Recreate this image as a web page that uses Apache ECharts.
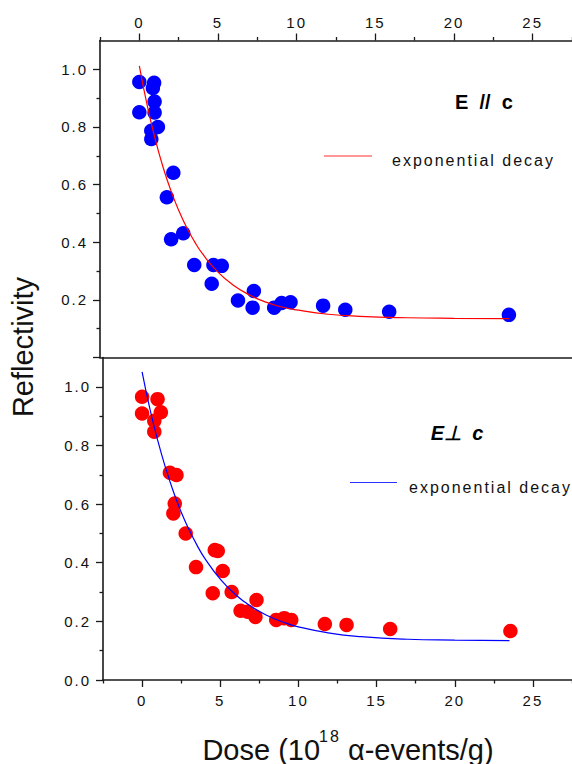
<!DOCTYPE html>
<html>
<head>
<meta charset="utf-8">
<script src="https://cdn.jsdelivr.net/npm/echarts@6/dist/echarts.min.js"></script>
<style>
  html, body { margin: 0; padding: 0; background: #fff; }
  #chart { width: 572px; height: 764px; }
</style>
</head>
<body>
<div id="chart"></div>
<script>
// E // c  (blue points, red fit)
const parDose = [0, 0, 0.94, 0.86, 0.97, 0.97, 1.18, 0.76, 0.76, 2.16, 1.75, 2.02, 2.79, 3.49, 4.71, 5.24, 4.6, 7.28, 6.27, 7.2, 8.57, 9.04, 9.61, 11.68, 13.09, 15.88, 23.49]
const parRefl = [0.956, 0.851, 0.953, 0.935, 0.888, 0.85, 0.80, 0.787, 0.758, 0.641, 0.556, 0.41, 0.431, 0.321, 0.321, 0.318, 0.256, 0.231, 0.198, 0.173, 0.173, 0.189, 0.192, 0.18, 0.166, 0.159, 0.148]

// E ⊥ c  (red points, blue fit)
const perpDose = [0, 0.99, 0, 1.2, 0.78, 0.78, 1.78, 2.2, 2.09, 2.0, 2.79, 3.45, 4.65, 4.84, 5.16, 4.52, 5.73, 6.3, 6.75, 7.32, 7.25, 8.58, 9.09, 9.54, 11.69, 13.08, 15.87, 23.56]
const perpRefl = [0.966, 0.958, 0.909, 0.913, 0.884, 0.847, 0.707, 0.699, 0.602, 0.568, 0.50, 0.385, 0.443, 0.44, 0.372, 0.296, 0.30, 0.236, 0.233, 0.273, 0.215, 0.205, 0.211, 0.205, 0.191, 0.188, 0.174, 0.167]

// fitted curves
const fitDose = [0, 0.5, 1, 1.5, 2, 2.5, 3, 3.5, 4, 5, 6, 7, 8, 9, 10, 12, 14, 17, 20, 23.5]
const parFit = [1.012, 0.875, 0.760, 0.662, 0.580, 0.511, 0.452, 0.403, 0.361, 0.296, 0.250, 0.217, 0.193, 0.176, 0.165, 0.150, 0.143, 0.138, 0.136, 0.135]
const perpFit = [1.051, 0.925, 0.817, 0.724, 0.643, 0.573, 0.513, 0.461, 0.416, 0.344, 0.290, 0.250, 0.220, 0.198, 0.181, 0.160, 0.148, 0.139, 0.136, 0.134]

// ticks
const xMajor = [0, 5, 10, 15, 20, 25]
const xMinor = [-2.5, 2.5, 7.5, 12.5, 17.5, 22.5, 27.5]
const yMajor = [0, 0.2, 0.4, 0.6, 0.8, 1.0]
const yMinor = [0.1, 0.3, 0.5, 0.7, 0.9]
const yLabelsTop = [0.2, 0.4, 0.6, 0.8, 1.0]
const yLabelsBottom = [0, 0.2, 0.4, 0.6, 0.8, 1.0]

const ink = '#1a1a1a'
const font = 'Liberation Sans'

const zip = (xs, ys) => xs.map((x, i) => [x, ys[i]])

const xAxisOf = (grid, position, opts) => ({
  type: 'value', gridIndex: grid, position,
  min: -2.5, max: 27.5,
  splitLine: { show: false },
  axisLine: { show: opts.line, onZero: false, lineStyle: { color: ink, width: 1.6 } },
  axisTick: opts.ticks
    ? { show: true, customValues: opts.ticks, length: opts.len, lineStyle: { color: ink, width: 1.3 } }
    : { show: false },
  axisLabel: opts.labels
    ? { show: true, customValues: opts.labels, margin: opts.margin, color: '#111', fontSize: 15, fontFamily: font }
    : { show: false }
})

const yAxisOf = (grid, opts) => ({
  type: 'value', gridIndex: grid, position: 'left',
  min: 0, max: 1.1,
  splitLine: { show: false },
  axisLine: { show: opts.line, onZero: false, lineStyle: { color: ink, width: 1.6 } },
  axisTick: { show: true, customValues: opts.ticks, length: opts.len, lineStyle: { color: ink, width: 1.3 } },
  axisLabel: opts.labels
    ? { show: true, customValues: opts.labels, margin: 12, color: '#111', fontSize: 15, fontFamily: font,
        formatter: v => Number(v).toFixed(1) }
    : { show: false }
})

const chart = echarts.init(document.getElementById('chart'), null, { renderer: 'svg' })

chart.setOption({
  animation: false,
  textStyle: { fontFamily: font },
  grid: [
    { left: 100, top: 40.5, width: 473, height: 317 },
    { left: 103, top: 357.5, width: 473, height: 322.5 }
  ],
  xAxis: [
    xAxisOf(0, 'top', { line: true, ticks: xMajor, len: 7, labels: xMajor, margin: 11 }),
    xAxisOf(0, 'top', { line: false, ticks: xMinor, len: 3.5 }),
    xAxisOf(0, 'bottom', { line: true }),
    xAxisOf(1, 'bottom', { line: true, ticks: xMajor, len: 7, labels: xMajor, margin: 13 }),
    xAxisOf(1, 'bottom', { line: false, ticks: xMinor, len: 3.5 })
  ],
  yAxis: [
    yAxisOf(0, { line: true, ticks: yMajor, len: 7, labels: yLabelsTop }),
    yAxisOf(0, { line: false, ticks: yMinor, len: 3.5 }),
    yAxisOf(1, { line: true, ticks: yMajor, len: 7, labels: yLabelsBottom }),
    yAxisOf(1, { line: false, ticks: yMinor, len: 3.5 })
  ],
  series: [
    {
      type: 'scatter', xAxisIndex: 0, yAxisIndex: 0,
      symbolSize: 14.5, itemStyle: { color: '#0000ff', opacity: 1 },
      data: zip(parDose, parRefl)
    },
    {
      name: 'exponential decay', type: 'line', xAxisIndex: 0, yAxisIndex: 0,
      smooth: true, showSymbol: false, z: 5,
      lineStyle: { color: '#ff0000', width: 1.2 },
      data: zip(fitDose, parFit)
    },
    {
      type: 'scatter', xAxisIndex: 3, yAxisIndex: 2,
      symbolSize: 14.5, itemStyle: { color: '#ff0000', opacity: 1 },
      data: zip(perpDose, perpRefl)
    },
    {
      name: 'exponential decay', type: 'line', xAxisIndex: 3, yAxisIndex: 2,
      smooth: true, showSymbol: false, z: 5,
      lineStyle: { color: '#0000ff', width: 1.2 },
      data: zip(fitDose, perpFit)
    }
  ],
  graphic: [
    { type: 'text', x: 484, y: 102, style: { text: 'E  //  c', fill: '#000', font: 'bold 20px ' + font, align: 'center', verticalAlign: 'middle' } },
    { type: 'line', shape: { x1: 324, y1: 156, x2: 372, y2: 156 }, style: { stroke: '#ff3030', lineWidth: 1.2 } },
    { type: 'text', x: 392, y: 160, style: { text: 'exponential decay', fill: '#111', font: '16px ' + font, verticalAlign: 'middle' } },
    { type: 'text', x: 457, y: 433, style: { text: 'E⊥  c', fill: '#000', font: 'italic bold 20px ' + font, align: 'center', verticalAlign: 'middle' } },
    { type: 'line', shape: { x1: 350, y1: 482.5, x2: 397, y2: 482.5 }, style: { stroke: '#3030ff', lineWidth: 1.2 } },
    { type: 'text', x: 409, y: 487, style: { text: 'exponential decay', fill: '#111', font: '16px ' + font, verticalAlign: 'middle' } },
    { type: 'text', x: 23, y: 347, rotation: Math.PI / 2,
      style: { text: 'Reflectivity', fill: '#111', font: '29px ' + font, align: 'center', verticalAlign: 'middle' } },
    { type: 'text', x: 348, y: 746,
      style: {
        text: '{a|Dose (10}{s|18}{a| α-events/g)}', fill: '#111', align: 'center', verticalAlign: 'middle',
        rich: {
          a: { fontSize: 29, fontFamily: font, lineHeight: 36, verticalAlign: 'bottom' },
          s: { fontSize: 16, fontFamily: font, lineHeight: 36, verticalAlign: 'top', padding: [0, 1, 0, 1] }
        }
      } }
  ]
})

// widen the small labels a little, like the spaced lettering of the original
const spaceSmallText = () => {
  document.querySelectorAll('#chart text').forEach(t => {
    const fs = parseFloat(getComputedStyle(t).fontSize)
    if (fs < 19) t.style.letterSpacing = '2px'
  })
}
chart.on('finished', spaceSmallText)
setTimeout(spaceSmallText, 50)
</script>
</body>
</html>
